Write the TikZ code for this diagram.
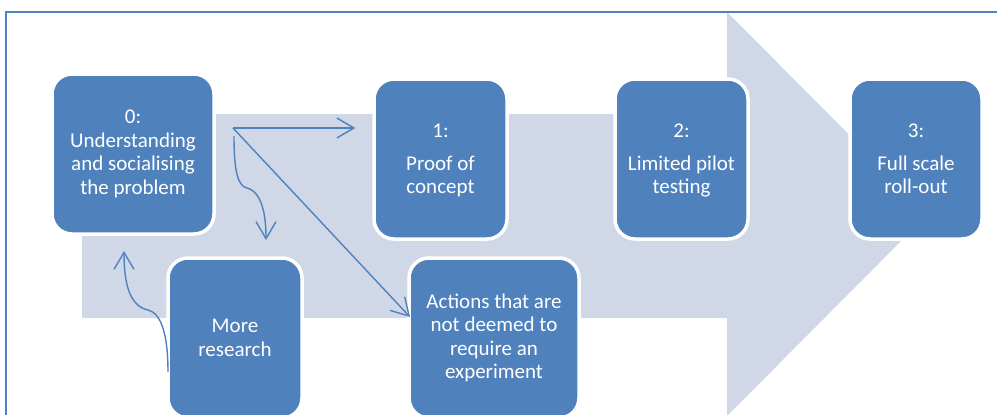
\documentclass[tikz,border=0pt]{standalone}
\usepackage{fontspec}
\setmainfont{Carlito}
\usetikzlibrary{arrows.meta}
\definecolor{boxblue}{HTML}{4F81BD}
\definecolor{bgarrow}{HTML}{D0D8E8}
\tikzset{
  stagebox/.style={fill=boxblue, draw=white, line width=3.5pt, rounded corners=20pt,
    text=white, align=center, inner sep=0pt,
    font=\fontsize{21}{23.5}\selectfont},
  flow/.style={draw=boxblue, line width=1.4pt, -{Straight Barb[length=17pt,width=20pt,line width=1.4pt]}},
}
\begin{document}
\begin{tikzpicture}[x=1pt,y=-1pt]
\useasboundingbox (0,0) rectangle (997,415);
\begin{scope}
\clip (0,0) rectangle (997,415);
% background arrow
\fill[bgarrow] (82,114) -- (727,114) -- (727,12) -- (928,214) -- (727,416) -- (727,318) -- (82,318) -- cycle;
% frame
\draw[boxblue, line width=1.3pt] (6,416) -- (6,12) -- (998,12);
% boxes
\node[stagebox, minimum width=162pt, minimum height=160pt] (b0) at (133,154) {0:\\Understanding\\and socialising\\the problem};
\node[stagebox, minimum width=133pt, minimum height=160pt, text depth=-2pt] (b1) at (440.5,159) {1:\\[9pt]Proof of\\concept};
\node[stagebox, minimum width=133pt, minimum height=160pt, text depth=-2pt] (b2) at (681.5,159) {2:\\[9pt]Limited pilot\\testing};
\node[stagebox, minimum width=132pt, minimum height=160pt] (b3) at (916,159) {3:\\[9pt]Full scale\\roll-out};
\node[stagebox, minimum width=134pt, minimum height=160pt] (mr) at (235,338) {More\\research};
\node[stagebox, minimum width=170pt, minimum height=160pt] (act) at (494,338) {Actions that are\\not deemed to\\require an\\experiment};
% connectors
\coordinate (s0) at (233,128);
\coordinate (s1) at (234,136);
\coordinate (t1) at ([xshift=-17pt]b1.west |- s0);
\coordinate (tA) at (410,317);
\coordinate (tR) at (266,240);
\coordinate (sM) at (168,372);
\coordinate (tM) at (124,251);
\draw[flow] (s0) -- (t1);
\draw[flow] (s0) -- (tA);
\draw[flow] (s1) .. controls (234,172) and (238,186) .. (247,188) .. controls (262,192) and (266,215) .. (tR);
\draw[flow] (sM) .. controls (168,334) and (161,313) .. (148,310) .. controls (129,306) and (124,282) .. (tM);
\end{scope}
\end{tikzpicture}
\end{document}
